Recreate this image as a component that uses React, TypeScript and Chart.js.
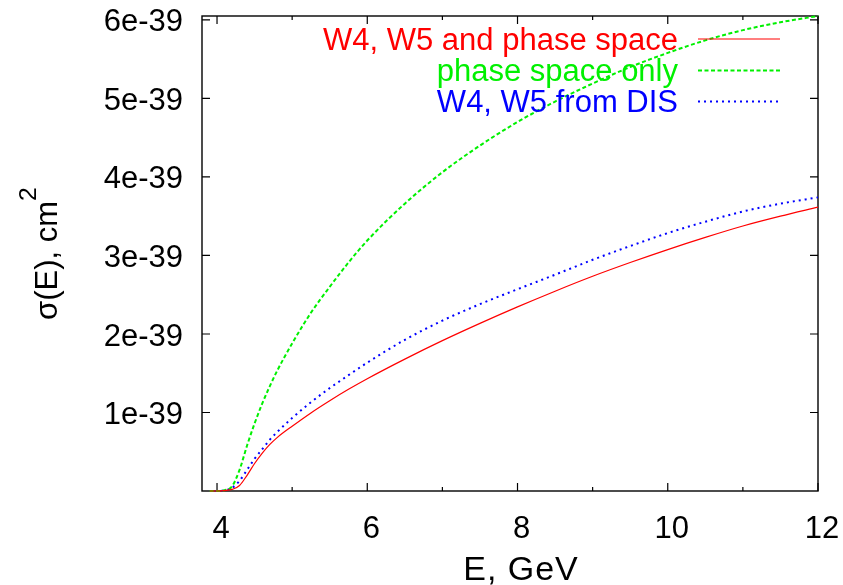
import { useEffect, useRef } from 'react';
import { Chart, registerables } from 'chart.js';

Chart.register(...registerables);

// Neutrino energy grid, GeV
const energyGeV = [3.9, 4.0, 4.1, 4.2, 4.3, 4.4, 4.5, 4.6, 4.7, 4.8, 5.0, 5.25, 5.5, 5.75, 6.0, 6.5, 7.0, 7.5, 8.0, 8.5, 9.0, 9.5, 10.0, 10.5, 11.0, 11.5, 12.0];

// Cross sections, in units of 1e-39 cm^2
const sigmaW4W5PhaseSpace = [0, 0, 0.005, 0.02, 0.07, 0.2, 0.35, 0.48, 0.59, 0.68, 0.825, 0.995, 1.15, 1.295, 1.43, 1.68, 1.915, 2.135, 2.345, 2.545, 2.735, 2.91, 3.075, 3.23, 3.375, 3.5, 3.615];
const sigmaPhaseSpaceOnly = [0, 0, 0.01, 0.06, 0.27, 0.58, 0.86, 1.11, 1.33, 1.53, 1.88, 2.27, 2.6, 2.91, 3.19, 3.66, 4.06, 4.4, 4.7, 4.96, 5.19, 5.4, 5.58, 5.74, 5.87, 5.97, 6.05];
const sigmaW4W5FromDIS = [0, 0, 0.01, 0.04, 0.13, 0.27, 0.41, 0.53, 0.65, 0.75, 0.93, 1.13, 1.31, 1.475, 1.635, 1.925, 2.17, 2.38, 2.57, 2.755, 2.945, 3.12, 3.285, 3.43, 3.56, 3.66, 3.74];

const seriesLabels = ['W4, W5 and phase space', 'phase space only', 'W4, W5 from DIS'];
const seriesColors = ['#ff0000', '#00f000', '#0000ff'];
const seriesWidths = [1.2, 2, 2];
const seriesDashes: number[][] = [[], [4, 2.5], [2, 4]];

const xTickValues = [4, 6, 8, 10, 12];
const xTickLabels = ['4', '6', '8', '10', '12'];
const xMinorTickValues = [5, 7, 9, 11];
const yTickValues = [1, 2, 3, 4, 5, 6];
const yTickLabels = ['1e-39', '2e-39', '3e-39', '4e-39', '5e-39', '6e-39'];

const xTitle = 'E, GeV';
const yTitle = 'σ(E), cm';
const yTitleSup = '2';

const FONT = '"Liberation Sans", Arial, Helvetica, sans-serif';
const FS = 31;

const framePlugin = {
  id: 'gnuplotFrame',
  beforeDatasetsDraw(chart: any) {
    const { ctx, chartArea: a, scales } = chart;
    const x = scales.x;
    const y = scales.y;
    ctx.save();
    ctx.strokeStyle = '#000';
    ctx.lineWidth = 1.4;
    ctx.strokeRect(a.left, a.top, a.right - a.left, a.bottom - a.top);
    ctx.lineWidth = 1.2;
    ctx.beginPath();
    const major = 8;
    const minor = 4;
    xTickValues.forEach((v) => {
      const p = x.getPixelForValue(v);
      ctx.moveTo(p, a.bottom);
      ctx.lineTo(p, a.bottom - major);
      ctx.moveTo(p, a.top);
      ctx.lineTo(p, a.top + major);
    });
    xMinorTickValues.forEach((v) => {
      const p = x.getPixelForValue(v);
      ctx.moveTo(p, a.bottom);
      ctx.lineTo(p, a.bottom - minor);
      ctx.moveTo(p, a.top);
      ctx.lineTo(p, a.top + minor);
    });
    yTickValues.forEach((v) => {
      const p = y.getPixelForValue(v);
      ctx.moveTo(a.left, p);
      ctx.lineTo(a.left + major, p);
      ctx.moveTo(a.right, p);
      ctx.lineTo(a.right - major, p);
    });
    ctx.stroke();
    ctx.restore();
  },
  afterDraw(chart: any) {
    const { ctx, chartArea: a } = chart;
    ctx.save();

    // key, right-aligned text with a line sample
    const textRight = 678;
    const sampleL = 698;
    const sampleR = 780;
    const rowY = [39, 70.5, 101.5];
    ctx.font = `${FS}px ${FONT}`;
    ctx.textAlign = 'right';
    ctx.textBaseline = 'alphabetic';
    seriesLabels.forEach((label, i) => {
      ctx.fillStyle = seriesColors[i];
      ctx.fillText(label, textRight, rowY[i] + 30 * 0.358);
      ctx.strokeStyle = seriesColors[i];
      ctx.lineWidth = seriesWidths[i];
      ctx.setLineDash(seriesDashes[i]);
      ctx.beginPath();
      ctx.moveTo(sampleL, rowY[i]);
      ctx.lineTo(sampleR, rowY[i]);
      ctx.stroke();
    });
    ctx.setLineDash([]);

    // x axis title
    ctx.fillStyle = '#000';
    ctx.textAlign = 'center';
    ctx.font = `34px ${FONT}`;
    (ctx as any).letterSpacing = '1px';
    ctx.fillText(xTitle, 521, 580);
    (ctx as any).letterSpacing = '0px';

    // y axis title with superscript, reading upwards
    ctx.font = `${FS}px ${FONT}`;
    const mainW = ctx.measureText(yTitle).width;
    ctx.font = `${FS * 0.8}px ${FONT}`;
    const supW = ctx.measureText(yTitleSup).width;
    const total = mainW + supW;
    const cy = (a.top + a.bottom) / 2;
    ctx.translate(57, cy);
    ctx.rotate(-Math.PI / 2);
    ctx.textAlign = 'left';
    ctx.font = `${FS}px ${FONT}`;
    ctx.fillText(yTitle, -total / 2, 0);
    ctx.font = `${FS * 0.8}px ${FONT}`;
    ctx.fillText(yTitleSup, -total / 2 + mainW, -21);
    ctx.restore();
  },
};

export default function App() {
  const ref = useRef<HTMLCanvasElement | null>(null);

  useEffect(() => {
    const canvas = ref.current;
    if (!canvas) return;
    const series = [sigmaW4W5PhaseSpace, sigmaPhaseSpaceOnly, sigmaW4W5FromDIS];
    const chart = new Chart(canvas, {
      type: 'line',
      data: {
        datasets: series.map((vals, i) => ({
          label: seriesLabels[i],
          data: energyGeV.map((e, j) => ({ x: e, y: vals[j] })),
          borderColor: seriesColors[i],
          backgroundColor: seriesColors[i],
          borderWidth: seriesWidths[i],
          borderDash: seriesDashes[i],
          pointRadius: 0,
          cubicInterpolationMode: 'monotone' as const,
          fill: false,
          clip: false as any,
        })),
      },
      options: {
        animation: false,
        responsive: false,
        devicePixelRatio: 1,
        layout: { padding: { top: 16, right: 25, left: 0, bottom: 0 } },
        plugins: { legend: { display: false }, tooltip: { enabled: false }, title: { display: false } },
        scales: {
          x: {
            type: 'linear',
            min: 3.8,
            max: 12,
            grid: { display: false, drawTicks: false },
            border: { display: false },
            afterBuildTicks: (s: any) => {
              s.ticks = xTickValues.map((v) => ({ value: v }));
            },
            afterFit: (s: any) => {
              s.height = 94;
              s.paddingLeft = 0;
              s.paddingRight = 0;
            },
            ticks: {
              autoSkip: false,
              maxRotation: 0,
              padding: 20,
              labelOffset: 4,
              color: '#000',
              font: { family: FONT, size: FS },
              callback: (_v: any, i: number) => xTickLabels[i],
            },
          },
          y: {
            type: 'linear',
            min: 0,
            max: 6.05,
            grid: { display: false, drawTicks: false },
            border: { display: false },
            afterBuildTicks: (s: any) => {
              s.ticks = yTickValues.map((v) => ({ value: v }));
            },
            afterFit: (s: any) => {
              s.width = 202;
              s.paddingTop = 0;
              s.paddingBottom = 0;
            },
            ticks: {
              autoSkip: false,
              padding: 19,
              labelOffset: 3,
              color: '#000',
              font: { family: FONT, size: FS },
              callback: (_v: any, i: number) => yTickLabels[i],
            },
          },
        },
      },
      plugins: [framePlugin],
    });
    return () => chart.destroy();
  }, []);

  return (
    <div style={{ position: 'absolute', left: 0, top: 0, width: 843, height: 585, background: '#fff' }}>
      <canvas ref={ref} width={843} height={585} />
    </div>
  );
}
